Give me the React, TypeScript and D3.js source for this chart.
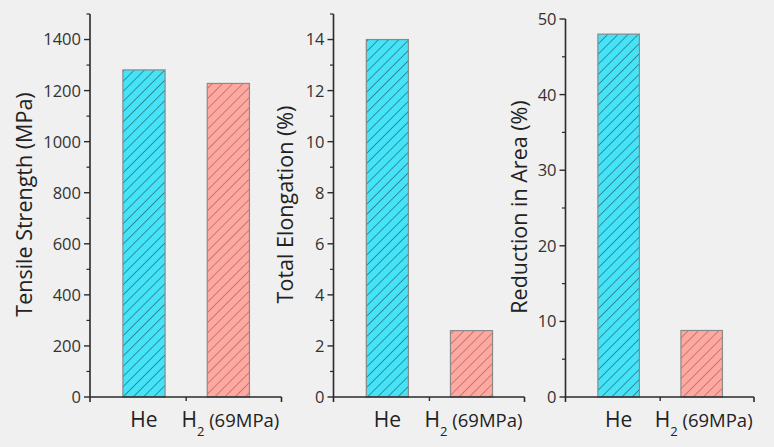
import React, { useEffect } from "react";
import * as d3 from "d3";

const categories = ["He", "H2"];
const tensileStrength = [1281, 1228];
const totalElongation = [14.0, 2.6];
const reductionInArea = [48.0, 8.8];

const tensileTicks = [0, 200, 400, 600, 800, 1000, 1200, 1400];
const elongationTicks = [0, 2, 4, 6, 8, 10, 12, 14];
const areaTicks = [0, 10, 20, 30, 40, 50];

const panels = [
  { title: "Tensile Strength (MPa)", values: tensileStrength, domain: [0, 1500], ticks: tensileTicks, minor: 100, left: 90, right: 281.5, top: 14, titleX: 32 },
  { title: "Total Elongation (%)", values: totalElongation, domain: [0, 15], ticks: elongationTicks, minor: 1, left: 333.5, right: 524.5, top: 14, titleX: 293 },
  { title: "Reduction in Area (%)", values: reductionInArea, domain: [0, 50], ticks: areaTicks, minor: 5, left: 565.5, right: 754, top: 19, titleX: 527 },
];

const bottom = 397;
const fills = ["#45e3f8", "#ffa8a0"];
const hatch = ["#24555e", "#946160"];
const font = "'Open Sans', sans-serif";

function Panel({ p }) {
  const y = d3.scaleLinear().domain(p.domain).range([bottom, p.top]);
  const x = d3.scaleLinear().domain([0.36, 2.63]).range([p.left, p.right]);
  const bw = x(1.25) - x(1);
  const minorTicks = d3.range(p.domain[0], p.domain[1] + 0.001, p.minor).filter(v => !p.ticks.includes(v));
  return (
    <g>
      {p.values.map((v, j) => (
        <g key={j}>
          <rect x={x(j + 1) - bw} y={y(v)} width={bw * 2} height={bottom - y(v)} fill={fills[j]} />
          <rect x={x(j + 1) - bw} y={y(v)} width={bw * 2} height={bottom - y(v)} fill={`url(#hatch${j})`} stroke="#8a8a8a" strokeWidth={1.2} />
        </g>
      ))}
      <line x1={p.left} x2={p.left} y1={p.top} y2={bottom + 5} stroke="#2a2a2a" strokeWidth={1.6} />
      <line x1={p.left} x2={p.right} y1={bottom} y2={bottom} stroke="#2a2a2a" strokeWidth={1.6} />
      <line x1={x(1.5)} x2={x(1.5)} y1={bottom} y2={bottom + 4} stroke="#2a2a2a" strokeWidth={1.4} />
      <line x1={p.right} x2={p.right} y1={bottom} y2={bottom + 5} stroke="#2a2a2a" strokeWidth={1.6} />
      {p.ticks.map(t => (
        <g key={t}>
          <line x1={p.left - 6} x2={p.left} y1={y(t)} y2={y(t)} stroke="#2a2a2a" strokeWidth={1.4} />
          <text x={p.left - 9} y={y(t)} dy="0.36em" textAnchor="end" fontSize={16.5} fill="#333" fontFamily={font}>{t}</text>
        </g>
      ))}
      {minorTicks.map(t => (
        <line key={t} x1={p.left - 3.5} x2={p.left} y1={y(t)} y2={y(t)} stroke="#2a2a2a" strokeWidth={1.2} />
      ))}
      <text x={x(1)} y={427} textAnchor="middle" fontSize={21} fill="#222" fontFamily={font}>{categories[0]}</text>
      <text x={x(2) + 2} y={427} textAnchor="middle" fill="#222" fontFamily={font}>
        <tspan fontSize={21}>H</tspan>
        <tspan fontSize={13} dy={9}>2</tspan>
        <tspan fontSize={18.5} dy={-9}> (69MPa)</tspan>
      </text>
      <text transform={`translate(${p.titleX},${(p.top + bottom) / 2 - 1}) rotate(-90)`} textAnchor="middle" fontSize={21.5} fill="#222" fontFamily={font}>{p.title}</text>
    </g>
  );
}

export default function App() {
  useEffect(() => {
    document.body.style.margin = "0";
    document.body.style.background = "#f0f0f0";
  }, []);
  return (
    <svg width={774} height={447} style={{ display: "block" }}>
      <defs>
        {hatch.map((c, j) => (
          <pattern key={j} id={`hatch${j}`} patternUnits="userSpaceOnUse" width={7.2} height={7.2} patternTransform="rotate(45)">
            <line x1={0} y1={0} x2={0} y2={7.2} stroke={c} strokeWidth={1.2} />
          </pattern>
        ))}
      </defs>
      <rect width={774} height={447} fill="#f0f0f0" />
      {panels.map((p, i) => <Panel key={i} p={p} />)}
    </svg>
  );
}
